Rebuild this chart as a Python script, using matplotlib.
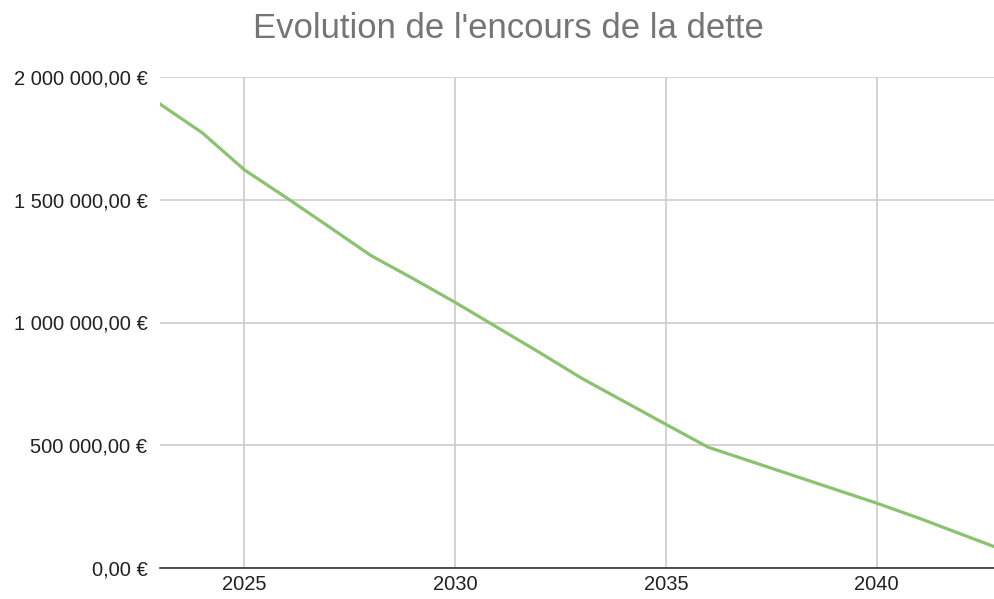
import matplotlib.pyplot as plt
from matplotlib.ticker import FuncFormatter

years = [2023, 2024, 2025, 2026, 2027, 2028, 2029, 2030, 2031, 2032, 2033,
         2034, 2035, 2036, 2037, 2038, 2039, 2040, 2041, 2042, 2043]
encours = [1890000, 1773000, 1622000, 1508000, 1391000, 1273000, 1179000,
           1082000, 980000, 878000, 773000, 679000, 585000, 492000, 435000,
           378000, 321000, 264000, 203000, 138000, 73000]
xticks = [2025, 2030, 2035, 2040]
yticks = [0, 500000, 1000000, 1500000, 2000000]


def euro(v, pos):
    s = f"{v:,.2f}".replace(",", " ").replace(".", ",")
    return s + " €"


plt.rcParams['font.family'] = ['Liberation Sans', 'DejaVu Sans']
fig = plt.figure(figsize=(9.94, 5.99), dpi=100)
ax = fig.add_axes([160 / 994, 1 - 568 / 599, 1 - 160 / 994, (568 - 77) / 599])

ax.plot(years, encours, color='#8bc270', linewidth=2.3, solid_joinstyle='round')
ax.set_xlim(2023, 2042.78)
ax.set_ylim(0, 2000000)
ax.set_xticks(xticks)
ax.set_yticks(yticks)
ax.yaxis.set_major_formatter(FuncFormatter(euro))
ax.grid(True, color='#cccccc', linewidth=1.2)
ax.set_axisbelow(True)
for s in ['top', 'right', 'left']:
    ax.spines[s].set_visible(False)
ax.spines['bottom'].set_color('#333333')
ax.spines['bottom'].set_linewidth(1.2)
ax.tick_params(length=0, labelsize=14.5, colors='#222222')
ax.tick_params(axis='y', pad=9)
ax.tick_params(axis='x', pad=5)
fig.suptitle("Evolution de l'encours de la dette", x=508 / 994, y=1 - 28 / 599,
             va='center', fontsize=25, color='#757575')

fig.savefig('out.png', dpi=100)
